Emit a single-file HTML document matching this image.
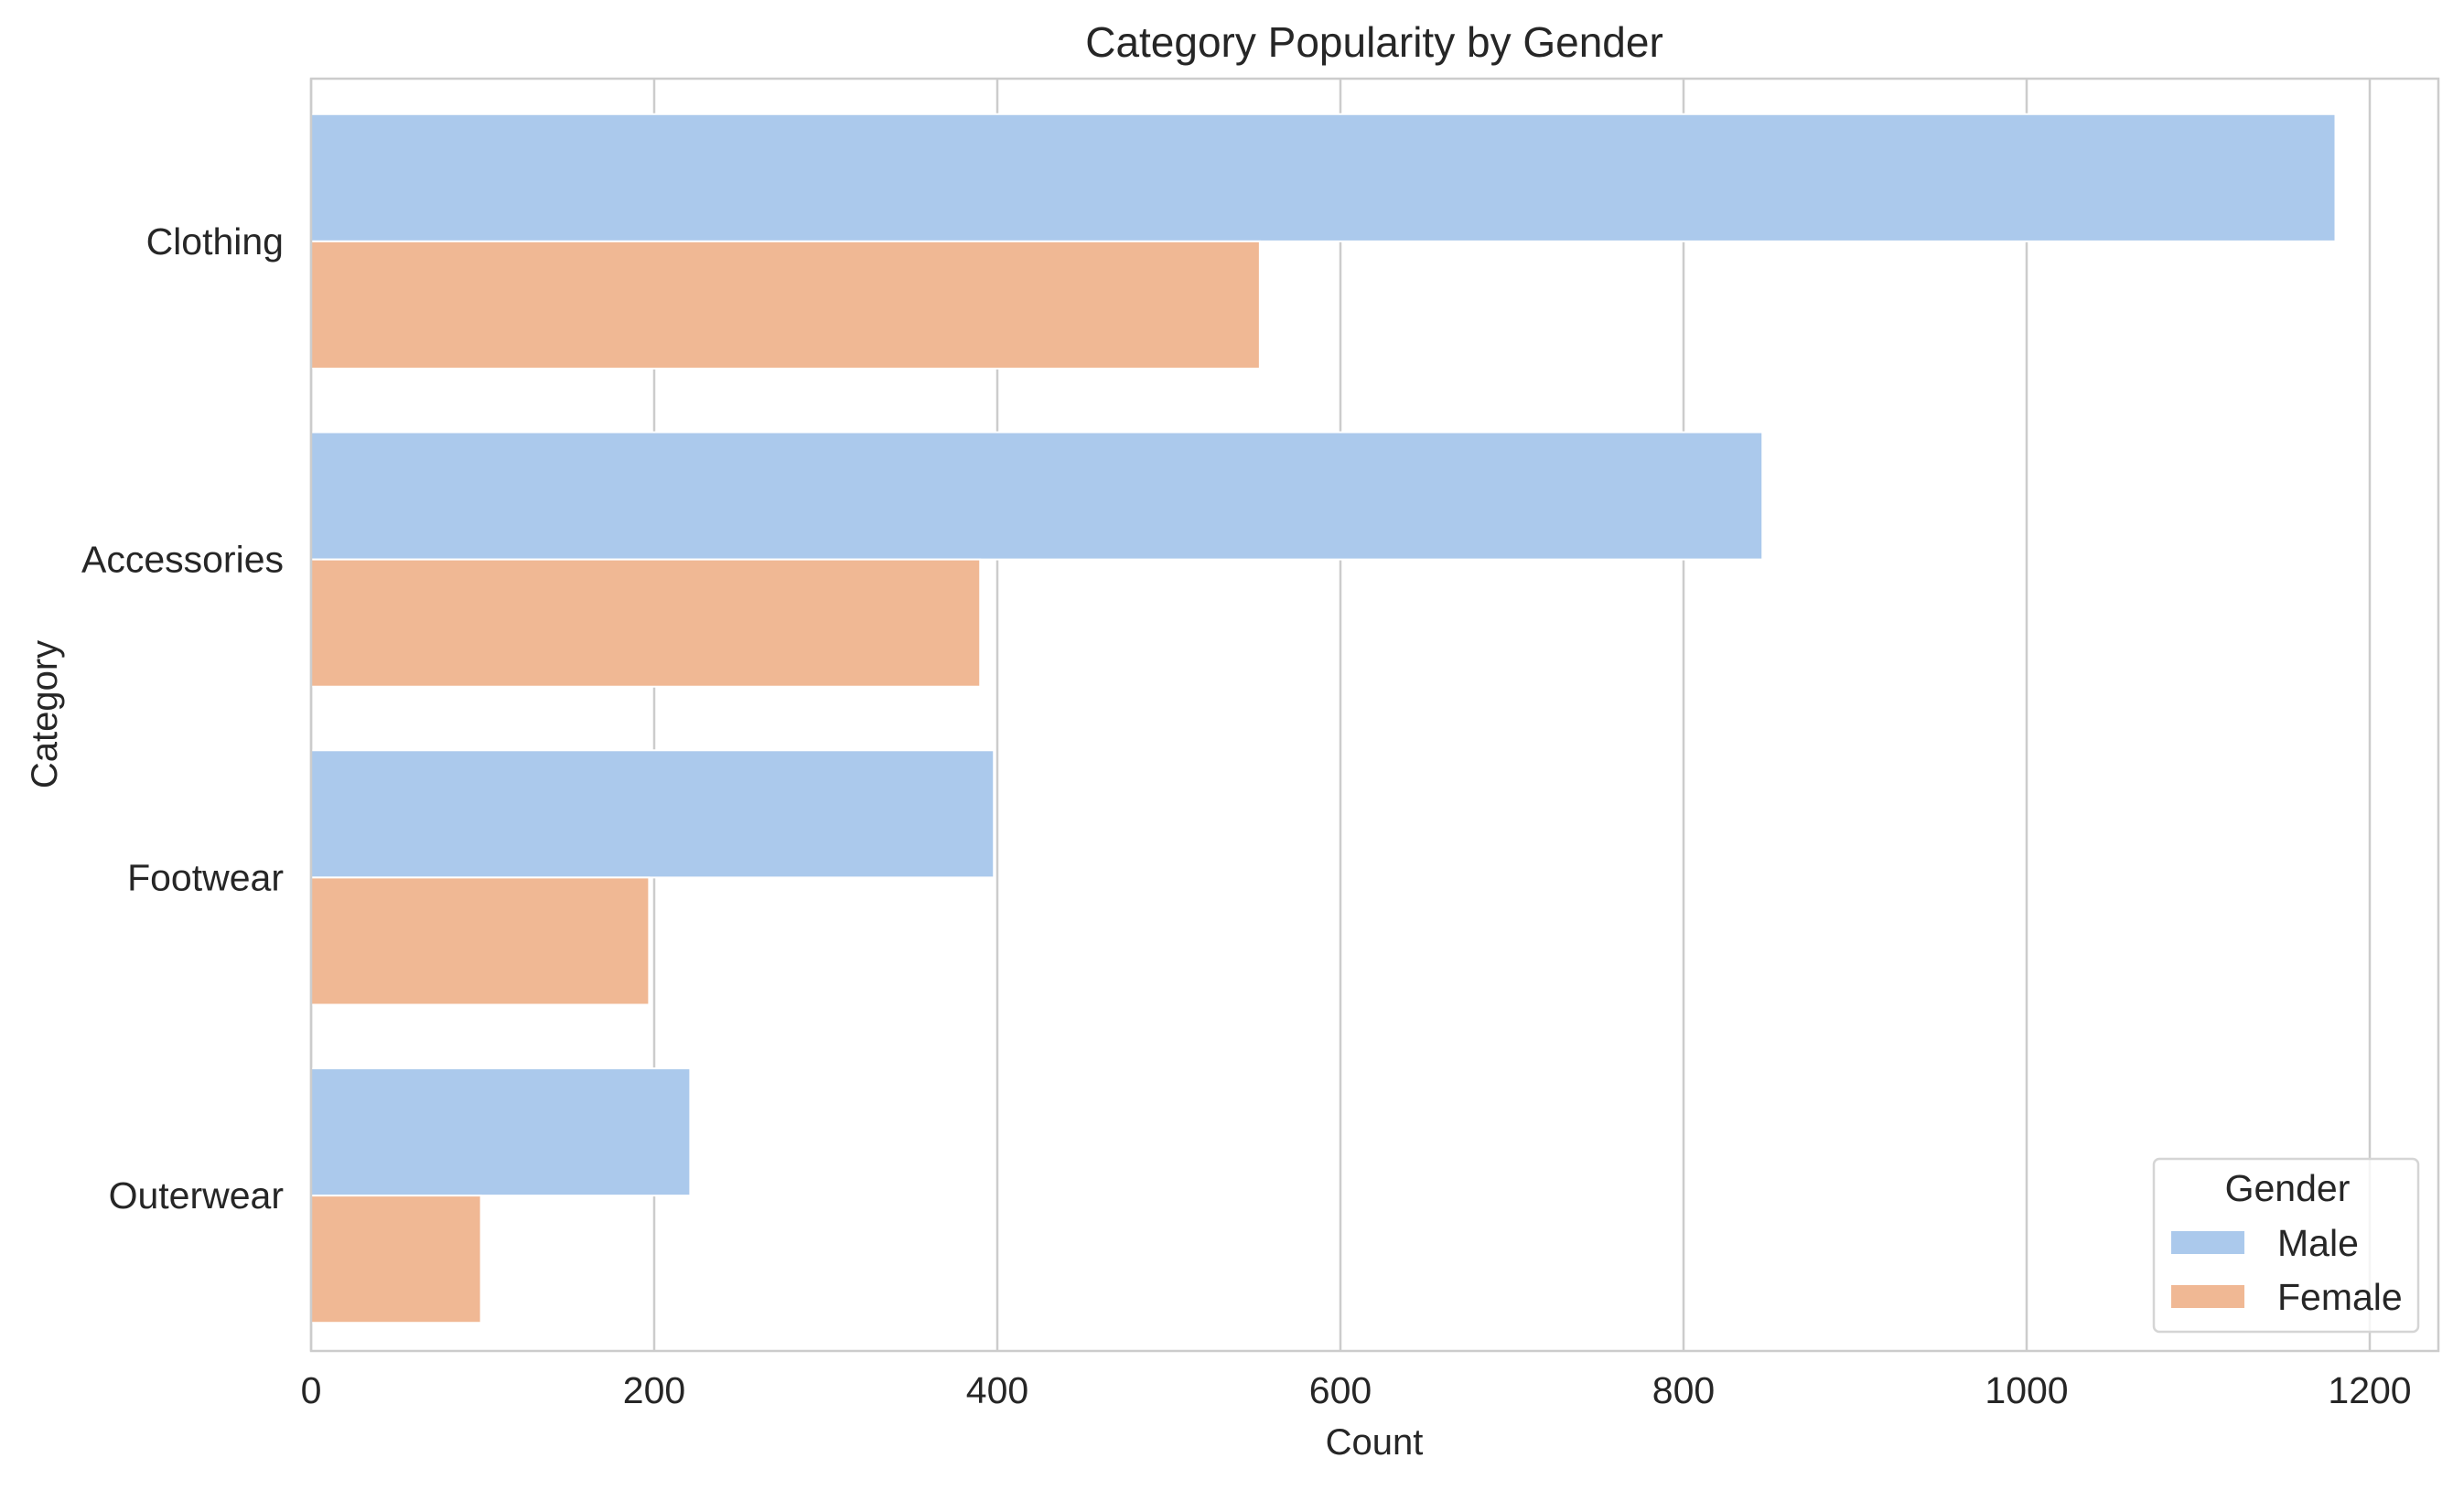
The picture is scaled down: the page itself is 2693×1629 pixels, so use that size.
<!DOCTYPE html>
<html><head><meta charset="utf-8"><style>body{margin:0;background:#fff}svg{display:block;font-family:"Liberation Sans",Arial,sans-serif}</style></head>
<body>
<svg id="chart" width="2693" height="1629" viewBox="0 0 2693 1629">
<text x="1502" y="62" font-size="46" fill="#262626" text-anchor="middle">Category Popularity by Gender</text>
<g id="grid"></g><g id="bars"></g><g id="ticks"></g>
<rect x="340" y="86" width="2325" height="1391" fill="none" stroke="#cccccc" stroke-width="2.5"/>
<text x="1502" y="1590" font-size="40" fill="#262626" text-anchor="middle">Count</text>
<text transform="translate(62,781) rotate(-90)" font-size="40" fill="#262626" text-anchor="middle">Category</text>
<g>
<rect x="2354" y="1267" width="289" height="189" rx="6" fill="#fff" fill-opacity="0.8" stroke="#d5d5d5" stroke-width="2.5"/>
<text x="2500" y="1313" font-size="41" fill="#262626" text-anchor="middle">Gender</text>
<rect x="2373" y="1346" width="80" height="25" fill="#abc9ec"/>
<text x="2489" y="1373" font-size="41" fill="#262626">Male</text>
<rect x="2373" y="1405" width="80" height="25" fill="#f0b894"/>
<text x="2489" y="1432" font-size="41" fill="#262626">Female</text>
</g>
</svg>
<script>
const categories = ["Clothing","Accessories","Footwear","Outerwear"];
const maleValues = [1180, 846, 398, 221];
const femaleValues = [553, 390, 197, 99];
const xTicks = [0,200,400,600,800,1000,1200];
const NS="http://www.w3.org/2000/svg";
const L=340,R=2665,T=86,B=1477;
const xs=v=>L+v*1.875;
const band=(B-T)/categories.length;
function mk(t,a,p){const e=document.createElementNS(NS,t);for(const k in a)e.setAttribute(k,a[k]);p.appendChild(e);return e;}
const grid=document.getElementById('grid'),bars=document.getElementById('bars'),ticks=document.getElementById('ticks');
xTicks.forEach(v=>{
  const g=mk('line',{x1:xs(v),x2:xs(v),y1:T,y2:B,stroke:'#cccccc','stroke-width':2.5},grid);
  
  
  const t=mk('text',{x:xs(v),y:B+57,'font-size':41,fill:'#262626','text-anchor':'middle'},ticks);
  t.textContent=v;
  
  
});
categories.forEach((c,i)=>{
  const c0=T+band*(i+0.5)+4, w=band*0.4;
  const m=mk('rect',{x:L,y:c0-w,width:xs(maleValues[i])-L,height:w,fill:'#abc9ec',stroke:'#fff','stroke-width':2},bars);
  
  
  const f=mk('rect',{x:L,y:c0,width:xs(femaleValues[i])-L,height:w,fill:'#f0b894',stroke:'#fff','stroke-width':2},bars);
  
  
  const t=mk('text',{x:L-30,y:c0+14,'font-size':41,fill:'#262626','text-anchor':'end'},ticks);
  t.textContent=c;
  
  
});
</script>
</body></html>
